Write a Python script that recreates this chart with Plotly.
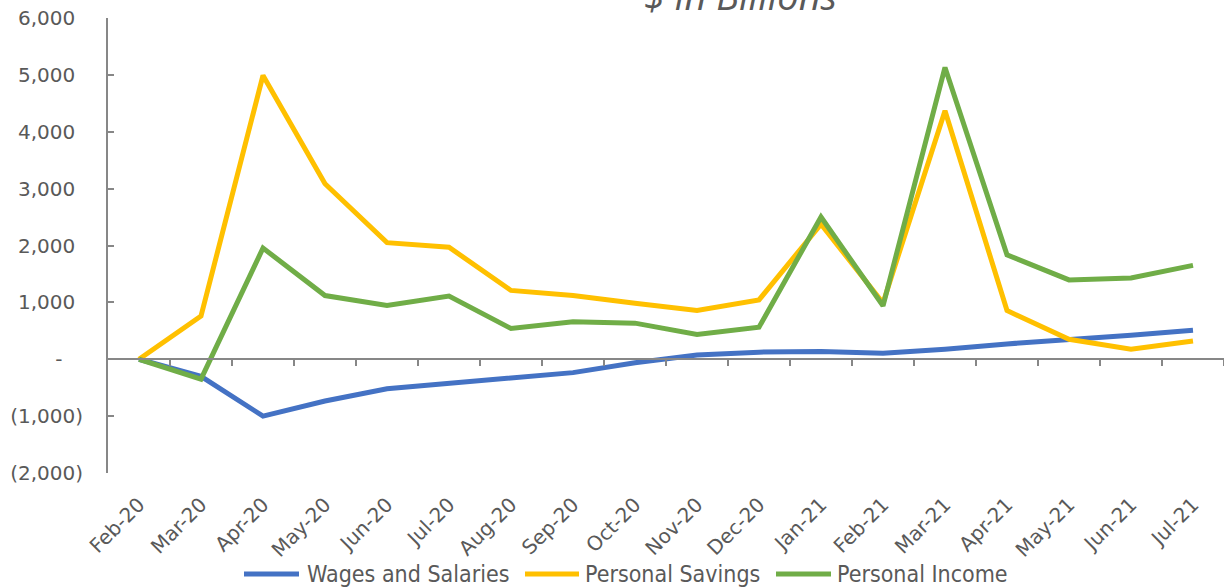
import plotly.graph_objects as go

# Monthly change since Feb-20, $ billions (annualized)
months = ["Feb-20", "Mar-20", "Apr-20", "May-20", "Jun-20", "Jul-20", "Aug-20", "Sep-20",
          "Oct-20", "Nov-20", "Dec-20", "Jan-21", "Feb-21", "Mar-21", "Apr-21", "May-21",
          "Jun-21", "Jul-21"]
wages = [0, -300, -1000, -735, -520, -420, -320, -235, -60, 75, 125, 135, 105, 176,
         270, 340, 422, 510]
savings = [0, 760, 4990, 3085, 2050, 1970, 1210, 1120, 985, 856, 1044, 2375, 990, 4370,
           856, 350, 175, 320]
income = [0, -350, 1955, 1120, 945, 1110, 540, 660, 635, 435, 565, 2500, 940, 5130,
          1835, 1395, 1430, 1650]

y_ticks = [-2000, -1000, 0, 1000, 2000, 3000, 4000, 5000, 6000]
y_tick_text = ["(2,000)", "(1,000)", "-", "1,000", "2,000", "3,000", "4,000", "5,000", "6,000"]

series = [("Wages and Salaries", wages, "#4472C4"),
          ("Personal Savings", savings, "#FFC000"),
          ("Personal Income", income, "#70AD47")]

FONT = "DejaVu Sans"
TEXT = "#595959"
AXIS = "#878787"

# plot area in pixels, used to place the hand-drawn legend below the axis labels
W, H = 1224, 588
L, R, T, B = 108, 0, 18, 115
PW, PH = W - L - R, H - T - B


def px_x(p):
    return (p - L) / PW


def px_y(p):
    return (H - B - p) / PH


# accounting-style labels: positives keep room for a closing parenthesis
HID = "<span style='color:rgba(0,0,0,0)'>{}</span>"
y_labels = []
for v, t in zip(y_ticks, y_tick_text):
    if v > 0:
        y_labels.append(t + HID.format(")"))
    elif v == 0:
        y_labels.append(t + HID.format("0)"))
    else:
        y_labels.append(t)

x_idx = list(range(len(months)))
fig = go.Figure()
for name, vals, color in series:
    fig.add_trace(go.Scatter(x=x_idx, y=vals, name=name, mode="lines",
                             line=dict(color=color, width=5), showlegend=False))

xr = [-0.5, len(months) - 0.5]
fig.update_layout(
    width=W, height=H,
    margin=dict(l=L, r=R, t=T, b=B, autoexpand=False),
    paper_bgcolor="white", plot_bgcolor="white",
    font=dict(family=FONT, color=TEXT, size=20),
    showlegend=False,
    xaxis=dict(range=xr, tickmode="array", tickvals=x_idx, ticktext=months,
               tickangle=-45, showline=False, ticks="", showgrid=False, zeroline=False,
               automargin=False, ticklabeloverflow="allow", ticklabelstandoff=15,
               tickfont=dict(size=20, color=TEXT)),
    # category axis drawn along the zero value, with tick marks between months
    xaxis2=dict(range=xr, overlaying="x", anchor="free", position=0.25, side="bottom",
                showline=True, linecolor=AXIS, linewidth=2, ticks="outside",
                tickvals=[i + 0.5 for i in x_idx[:-1]] + [xr[1]], ticklen=6, tickwidth=1.5,
                tickcolor=AXIS, showticklabels=False, showgrid=False, zeroline=False,
                automargin=False),
    yaxis=dict(range=[-2000, 6000], tickmode="array", tickvals=y_ticks, ticktext=y_labels,
               showline=True, linecolor=AXIS, linewidth=2, ticks="inside", ticklen=6,
               tickwidth=1.5, tickcolor=AXIS, showgrid=False, zeroline=False,
               automargin=False, ticklabeloverflow="allow", ticklabelstandoff=19,
               tickfont=dict(size=20, color=TEXT)),
)
# invisible trace so the zero-level category axis is rendered
fig.add_trace(go.Scatter(x=[xr[0]], y=[0], xaxis="x2", mode="markers",
                         marker=dict(opacity=0), showlegend=False, hoverinfo="skip"))

# legend: line swatch followed by the series name
legend_x = [(244, 299, 305), (525, 579, 583), (776, 831, 835)]
for (name, _, color), (x0, x1, xt) in zip(series, legend_x):
    fig.add_shape(type="line", xref="paper", yref="paper",
                  x0=px_x(x0), x1=px_x(x1), y0=px_y(574), y1=px_y(574),
                  line=dict(color=color, width=5))
    fig.add_annotation(text=name, xref="paper", yref="paper", x=px_x(xt), y=px_y(574),
                       xanchor="left", yanchor="middle", showarrow=False,
                       font=dict(family="DejaVu Sans Condensed", size=23, color=TEXT))

fig.add_annotation(text="<i>$ in Billions</i>", xref="paper", yref="paper",
                   x=0.567, y=1.05, xanchor="center", yanchor="middle", showarrow=False,
                   font=dict(family="Open Sans", size=38, color=TEXT))

fig.write_html("out.html")
